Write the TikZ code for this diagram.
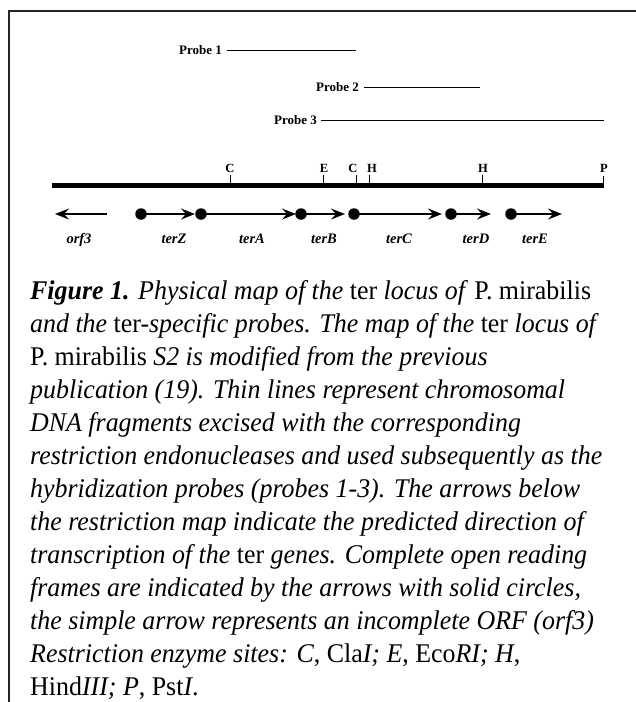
\documentclass[tikz,border=0pt]{standalone}
\usepackage{fontspec}
\setmainfont{Liberation Serif}
\newfontfamily\capfont[FakeStretch=0.96]{Liberation Serif}
\usetikzlibrary{arrows.meta}
\begin{document}
\begin{tikzpicture}[x=1pt,y=-1pt,
  probelbl/.style={font=\fontsize{13}{15}\selectfont\bfseries, inner sep=0pt, anchor=east},
  probeline/.style={line width=0.9pt},
  sitelbl/.style={font=\fontsize{12.5}{14}\selectfont\bfseries, inner sep=0pt, anchor=base},
  sitetick/.style={line width=1pt},
  genelbl/.style={font=\fontsize{14.5}{16}\selectfont\bfseries\itshape, inner sep=0pt, anchor=base},
  dot/.style={circle, fill=black, inner sep=0pt, minimum size=11.5pt},
  genearrow/.style={line width=1.6pt, -{Stealth[length=14pt,width=11pt,inset=5pt]}},
  capline/.style={font=\capfont\fontsize{27}{33}\selectfont, inner sep=0pt, anchor=base west}
]
\useasboundingbox (0,0) rectangle (636,702);
% frame
\coordinate (fbl) at (9,702);
\coordinate (ftl) at (9,11);
\coordinate (ftr) at (636,11);
\draw[line width=2pt, line join=miter, black!85] (fbl) -- (ftl) -- (ftr);

% probes
\node[probelbl] (p1) at (222,50) {Probe 1};
\coordinate (p1e) at (356,50);
\draw[probeline] ([xshift=5pt]p1.east) -- (p1e);
\node[probelbl] (p2) at (359,87) {Probe 2};
\coordinate (p2e) at (480,87);
\draw[probeline] ([xshift=5pt]p2.east) -- (p2e);
\node[probelbl] (p3) at (317,120) {Probe 3};
\coordinate (p3e) at (604,120);
\draw[probeline] ([xshift=4pt]p3.east) -- (p3e);

% main map line
\coordinate (mL) at (52,185);
\coordinate (mR) at (604,185);
\draw[line width=5pt] (mL) -- (mR);
% sites
\foreach \nm/\xx in {c1/230, e1/323, c2/356, h1/369, h2/482}{
  \coordinate (t\nm) at (\xx,185);
  \coordinate (u\nm) at (\xx,175);
  \draw[sitetick] (t\nm) -- (u\nm);
}
\node[sitelbl] (lc1) at (230,172) {C};
\node[sitelbl] (le1) at (324,172) {E};
\node[sitelbl] (lc2) at (353,172) {C};
\node[sitelbl] (lh1) at (372,172) {H};
\node[sitelbl] (lh2) at (483,172) {H};
\coordinate (tp) at (603.5,187);
\coordinate (up) at (603.5,176);
\draw[line width=1.5pt] (tp) -- (up);
\node[sitelbl] (lp) at (604,172) {P};

% genes
\coordinate (o3s) at (107,214);
\coordinate (o3e) at (55,214);
\draw[genearrow] (o3s) -- (o3e);
\foreach \nm/\xa/\xb in {z/141/195, a/201/296, b/301/345, c/354/442, d/451/491, e/511/562}{
  \node[dot] (g\nm) at (\xa,214) {};
  \coordinate (h\nm) at (\xb,214);
  \draw[genearrow] (g\nm.center) -- (h\nm);
}
\node[genelbl] (lo3) at (79,243) {orf3};
\node[genelbl] (lz) at (174,243) {terZ};
\node[genelbl] (la) at (252,243) {terA};
\node[genelbl] (lb) at (324,243) {terB};
\node[genelbl] (lc) at (399,243) {terC};
\node[genelbl] (ld) at (476,243) {terD};
\node[genelbl] (le) at (535,243) {terE};

% caption
\node[capline] (cap1) at (30,299) {\textbf{\textit{Figure 1.}}\textit{ Physical map of the} ter \textit{locus of} P. mirabilis};
\node[capline] (cap2) at (30,332) {\textit{and the} ter-\textit{specific probes. The map of the} ter \textit{locus of}};
\node[capline] (cap3) at (30,365) {P. mirabilis \textit{S2 is modified from the previous}};
\node[capline] (cap4) at (30,398) {\textit{publication (19). Thin lines represent chromosomal}};
\node[capline] (cap5) at (30,431) {\textit{DNA fragments excised with the corresponding}};
\node[capline] (cap6) at (30,464) {\textit{restriction endonucleases and used subsequently as the}};
\node[capline] (cap7) at (30,497) {\textit{hybridization probes (probes 1-3). The arrows below}};
\node[capline] (cap8) at (30,530) {\textit{the restriction map indicate the predicted direction of}};
\node[capline] (cap9) at (30,563) {\textit{transcription of the} ter \textit{genes. Complete open reading}};
\node[capline] (cap10) at (30,596) {\textit{frames are indicated by the arrows with solid circles,}};
\node[capline] (cap11) at (30,629) {\textit{the simple arrow represents an incomplete ORF (orf3)}};
\node[capline] (cap12) at (30,662) {\textit{Restriction enzyme sites: C}, Cla\textit{I; E}, Eco\textit{RI; H},};
\node[capline] (cap13) at (30,695) {Hind\textit{III; P}, Pst\textit{I}.};
\end{tikzpicture}
\end{document}
